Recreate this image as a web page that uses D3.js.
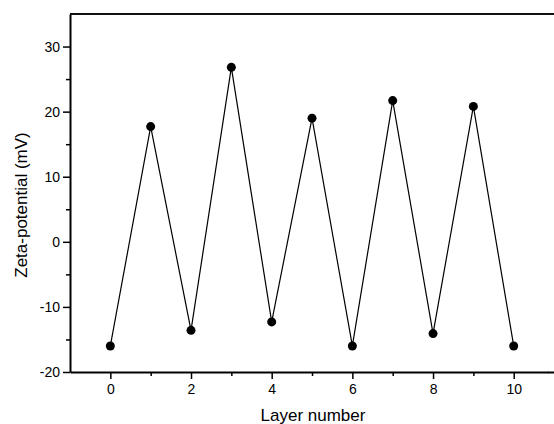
<!DOCTYPE html>
<html>
<head>
<meta charset="utf-8">
<script src="https://cdn.jsdelivr.net/npm/d3@7"></script>
<style>
  body { margin: 0; background: #fff; overflow: hidden; }
  svg { display: block; }
  text { font-family: "Liberation Sans", Arial, sans-serif; fill: #000; }
</style>
</head>
<body>
<div id="chart"></div>
<script>
const width = 554, height = 424
const margin = { top: 14, right: 6, bottom: 52, left: 70 }

// data
var layers = [0, 1, 2, 3, 4, 5, 6, 7, 8, 9, 10]
var zeta = [-16.0, 17.7, -13.6, 26.8, -12.3, 19.0, -16.0, 21.7, -14.1, 20.8, -16.0]
var xTicks = [0, 2, 4, 6, 8, 10]
var xMinor = [1, 3, 5, 7, 9]
var yTicks = [-20, -10, 0, 10, 20, 30]
var yMinor = [-15, -5, 5, 15, 25]

const svg = d3.select("#chart")
  .append("svg")
  .attr("width", width)
  .attr("height", height)

// the plot runs off the right edge of the picture, as in the original
const x = d3.scaleLinear().domain([-1, 10.85]).range([margin.left, width - margin.right])
const y = d3.scaleLinear().domain([-20, 35]).range([height - margin.bottom, margin.top])
const plain = d => String(d)  // keep ascii hyphen like the original

// top frame line
svg.append("line")
  .attr("x1", x(-1)).attr("x2", width)
  .attr("y1", y(35)).attr("y2", y(35))
  .attr("stroke", "#111")
  .attr("stroke-width", 2)

// minor ticks
svg.append("g")
  .attr("transform", `translate(0, ${y(-20)})`)
  .call(d3.axisBottom(x).tickValues(xMinor).tickSize(4).tickFormat(""))
  .call(g => g.select(".domain").remove())
  .selectAll("line").attr("stroke-width", 1.5)

svg.append("g")
  .attr("transform", `translate(${x(-1)}, 0)`)
  .call(d3.axisLeft(y).tickValues(yMinor).tickSize(4).tickFormat(""))
  .call(g => g.select(".domain").remove())
  .selectAll("line").attr("stroke-width", 1.5)

// x-Axis
const xg = svg.append("g")
  .attr("transform", `translate(0, ${y(-20)})`)
  .call(d3.axisBottom(x).tickValues(xTicks).tickFormat(plain).tickSize(7).tickSizeOuter(0).tickPadding(5))
xg.select(".domain").attr("stroke-width", 2)
xg.selectAll(".tick line").attr("stroke-width", 1.5)
xg.selectAll("text").style("font-size", "14px").attr("fill", "#000")
svg.append("line")
  .attr("x1", x.range()[1]).attr("x2", width)
  .attr("y1", y(-20) + 0.5).attr("y2", y(-20) + 0.5)
  .attr("stroke", "#000")
  .attr("stroke-width", 2)

// y-Axis
const yg = svg.append("g")
  .attr("transform", `translate(${x(-1)}, 0)`)
  .call(d3.axisLeft(y).tickValues(yTicks).tickFormat(plain).tickSize(7).tickSizeOuter(0).tickPadding(3))
yg.select(".domain").attr("stroke-width", 2)
yg.selectAll(".tick line").attr("stroke-width", 1.5)
yg.selectAll("text").style("font-size", "14px").attr("fill", "#000")

// line + points
const pts = layers.map((d, i) => ({ key: d, value: zeta[i] }))

svg.append("path")
  .datum(pts)
  .attr("fill", "none")
  .attr("stroke", "#000")
  .attr("stroke-width", 1.2)
  .attr("d", d3.line().x(d => x(d.key)).y(d => y(d.value)))

svg.selectAll("circle")
  .data(pts)
  .enter()
  .append("circle")
  .attr("cx", d => x(d.key))
  .attr("cy", d => y(d.value))
  .attr("r", 4.5)
  .attr("fill", "#000")

// axis labels
svg.append("text")
  .attr("x", 313)
  .attr("y", 421)
  .attr("text-anchor", "middle")
  .style("font-size", "17px")
  .text("Layer number")

svg.append("text")
  .attr("transform", `translate(27, 205) rotate(-90)`)
  .attr("text-anchor", "middle")
  .style("font-size", "17px")
  .text("Zeta-potential (mV)")
</script>
</body>
</html>
